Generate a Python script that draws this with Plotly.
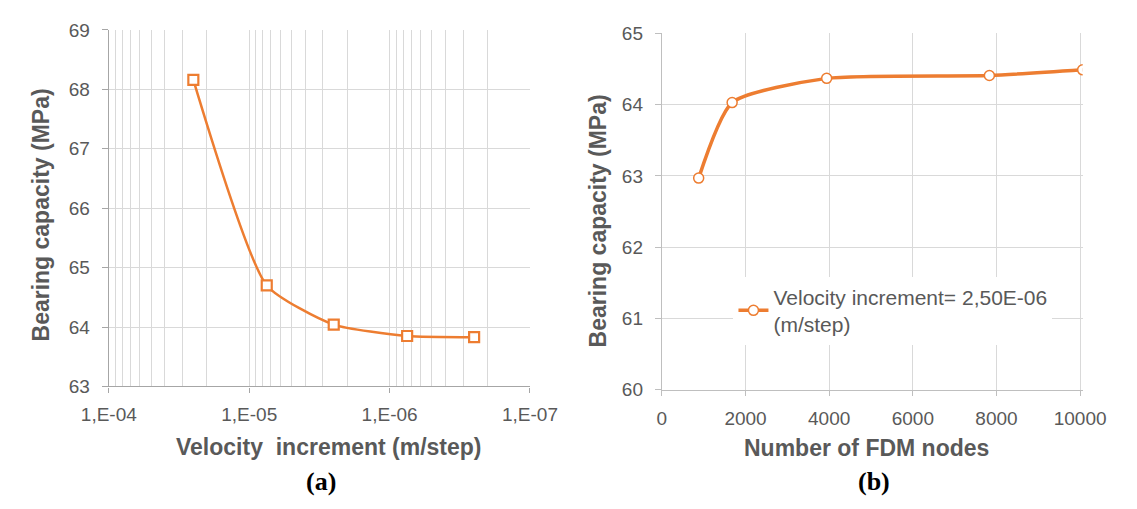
import plotly.graph_objects as go

# Panel (a): bearing capacity vs. velocity increment
velocity_increment = [2.5e-05, 7.5e-06, 2.5e-06, 7.5e-07, 2.5e-07]
capacity_a = [68.16, 64.70, 64.04, 63.85, 63.83]

# Panel (b): bearing capacity vs. number of FDM nodes
fdm_nodes = [880, 1680, 3940, 7830, 10060]
capacity_b = [62.97, 64.03, 64.37, 64.41, 64.49]

decade_vals = [1e-04, 1e-05, 1e-06, 1e-07]
decade_text = ["1,E-04", "1,E-05", "1,E-06", "1,E-07"]
node_ticks = [0, 2000, 4000, 6000, 8000, 10000]
node_text = ["0", "2000", "4000", "6000", "8000", "10000"]

ORANGE = "#ED7D31"
GRID = "#d9d9d9"
AXIS = "#bfbfbf"
TXT = "#595959"
FONT = "Liberation Sans, Arial, sans-serif"

W, H = 1137, 509


def px_x(p):
    return p / W


def px_y(p):
    return 1 - p / H


minor_vals = [m * 10.0 ** e for e in (-5, -6, -7) for m in range(2, 10)]

fig = go.Figure()

fig.add_trace(go.Scatter(
    x=velocity_increment, y=capacity_a, xaxis="x", yaxis="y",
    mode="lines+markers", showlegend=False,
    line=dict(color=ORANGE, width=2.5, shape="spline", smoothing=0.55),
    marker=dict(symbol="square", size=10, color="white",
                line=dict(color=ORANGE, width=2.2)),
))

fig.add_trace(go.Scatter(
    x=fdm_nodes, y=capacity_b, xaxis="x2", yaxis="y2",
    mode="lines+markers", name="Velocity increment= 2,50E-06<br>(m/step)",
    line=dict(color=ORANGE, width=3.5, shape="spline", smoothing=0.6),
    marker=dict(symbol="circle", size=10, color="white",
                line=dict(color=ORANGE, width=1.5)),
))

tickfont = dict(family=FONT, size=19, color=TXT)

fig.update_layout(
    width=W, height=H,
    margin=dict(l=0, r=0, t=0, b=0),
    paper_bgcolor="white", plot_bgcolor="white",
    xaxis=dict(
        type="log", range=[-4, -7], domain=[px_x(85), px_x(528)],
        anchor="y", tickmode="array", tickvals=decade_vals, ticktext=decade_text,
        showgrid=True, gridcolor=GRID, gridwidth=1,
        minor=dict(tickmode="array", tickvals=minor_vals, showgrid=True,
                   gridcolor=GRID, gridwidth=1, ticks=""),
        showline=True, linecolor="#a6a6a6", linewidth=1.2,
        ticks="outside", ticklen=5, tickcolor="#a6a6a6",
        ticklabelstandoff=6, tickfont=tickfont, zeroline=False,
    ),
    yaxis=dict(
        range=[63, 69], dtick=1, domain=[px_y(392.7), px_y(20.7)], anchor="x",
        showgrid=True, gridcolor=GRID, gridwidth=1,
        showline=True, linecolor="#a6a6a6", linewidth=1.2,
        ticks="outside", ticklen=6, tickcolor="#a6a6a6",
        ticklabelstandoff=8, tickfont=tickfont, zeroline=False,
    ),
    xaxis2=dict(
        range=[0, 10060], domain=[px_x(666.7), px_x(1109.3)], anchor="y2",
        tickmode="array", tickvals=node_ticks, ticktext=node_text,
        showgrid=True, gridcolor=GRID, gridwidth=1,
        showline=True, linecolor=AXIS, linewidth=1.2,
        ticks="outside", ticklen=5, tickcolor=AXIS,
        ticklabelstandoff=6, tickfont=tickfont, zeroline=False,
    ),
    yaxis2=dict(
        range=[60, 65], dtick=1, domain=[px_y(396), px_y(24.5)], anchor="x2",
        showgrid=True, gridcolor=GRID, gridwidth=1,
        showline=True, linecolor=AXIS, linewidth=1.2,
        ticks="outside", ticklen=6, tickcolor=AXIS,
        ticklabelstandoff=8, tickfont=tickfont, zeroline=False,
    ),
    legend=dict(
        x=px_x(742), y=px_y(278), xanchor="left", yanchor="top",
        bgcolor="white", borderwidth=0,
        font=dict(family=FONT, size=21, color=TXT),
    ),
)

# White panel behind the legend that interrupts the gridlines
fig.add_shape(type="rect", xref="paper", yref="paper",
              x0=px_x(700), x1=px_x(1088), y0=px_y(345), y1=px_y(267),
              fillcolor="white", line=dict(width=0), layer="between")

title_font = dict(family=FONT, size=23, color=TXT)
annotations = [
    dict(text="<b>Velocity  increment (m/step)</b>", x=px_x(316), y=px_y(456)),
    dict(text="<b>Number of FDM nodes</b>", x=px_x(882), y=px_y(457)),
    dict(text="<b>Bearing capacity (MPa)</b>", x=px_x(14), y=px_y(214), textangle=-90),
    dict(text="<b>Bearing capacity (MPa)</b>", x=px_x(599), y=px_y(220), textangle=-90),
]
for a in annotations:
    fig.add_annotation(xref="paper", yref="paper", showarrow=False,
                       xanchor="center", yanchor="middle", font=title_font, **a)

panel_font = dict(family="Liberation Serif, Times New Roman, serif", size=26, color="black")
for label, xc in (("(a)", 308), ("(b)", 890)):
    fig.add_annotation(text=f"<b>{label}</b>", xref="paper", yref="paper",
                       x=px_x(xc), y=px_y(492), showarrow=False,
                       xanchor="center", yanchor="middle", font=panel_font)

fig.write_html("out.html")
